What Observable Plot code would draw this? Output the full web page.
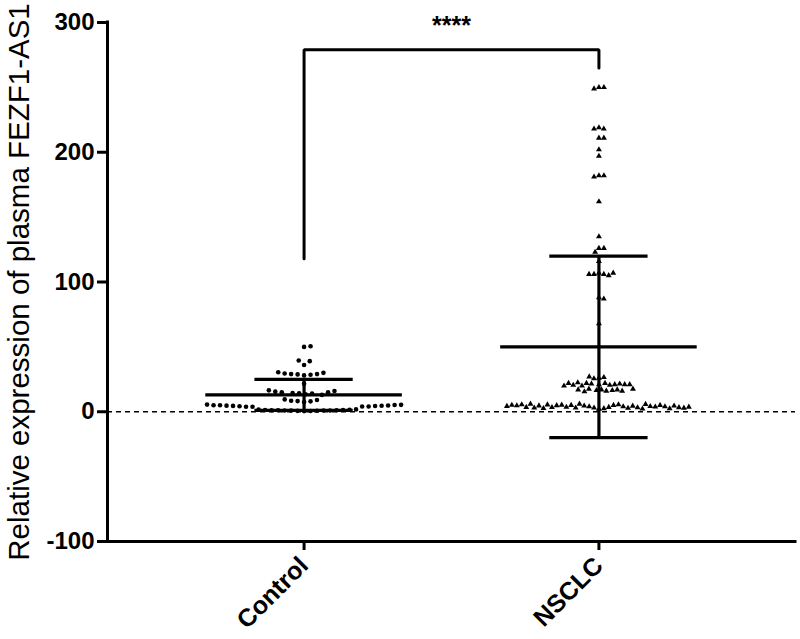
<!DOCTYPE html>
<html><head><meta charset="utf-8">
<script src="https://cdn.jsdelivr.net/npm/d3@7"></script>
<script src="https://cdn.jsdelivr.net/npm/@observablehq/plot@0.6"></script>
<style>
body{margin:0;background:#fff;font-family:"Liberation Sans",Arial,sans-serif}
#chart svg{display:block}
</style>
</head><body><div id="chart"></div>
<script>
// ---------- data ----------
const groups = ["Control", "NSCLC"];
const controlValues = [
  0.5, 1, 1.5, 0.8, 1.2, 1, 0.6, 1.4, 1, 1.8, 0.9, 1.3, 1.1, 0.7, 1.6, 1.2,
  3.8, 4.5, 5, 4.2, 5.5, 4.8, 4, 5.2, 4.6, 3.9, 5, 4.4, 5.3, 4.7, 4.1,
  7.5, 8, 8.5, 9, 8.2, 9.5,
  13, 14, 15, 14.5, 16, 13.5, 15.5, 14.2, 16.5, 15,
  21.5,
  28, 29, 30, 28.5, 29.5, 29, 30.5, 28.8,
  36, 39, 39.5, 50, 50.5
];
const nsclcValues = [
  2, 2.5, 3, 3.5, 4, 4.5, 5, 5.5, 6, 3, 4, 5, 2.8, 3.6, 4.4, 5.2, 3.2, 4.8, 2.2, 5.8,
  3.4, 4.2, 5.4, 2.6, 3.8, 4.6, 5, 3, 4, 6, 2.4, 3.5, 4.5, 5.5, 3.3, 4.7, 2.9, 5.1, 3.7, 4.3,
  26, 26.5, 25.5, 27,
  21, 22, 21.5, 20.5, 22, 21, 20, 21.5, 22.5, 21, 20.5, 22, 21, 20,
  17, 16.5, 17.5, 16, 17, 16.5, 15.5, 17, 16, 17.5,
  250, 250, 249, 219, 218, 218, 211, 211, 202, 197, 182, 182, 181, 162, 135,
  126, 126, 123, 116, 107, 106, 106, 105, 106, 107, 88, 87, 68
];
const groupMeans = [13, 50];
const groupSDs = [12, 70];
const yTicks = [-100, 0, 100, 200, 300];
const yDomain = [-100, 300];
const yTitle = "Relative expression of plasma FEZF1-AS1";
const sigLabel = "****";
const bracketY = [118, 279, 265];   // left foot, top, right foot
const sigY = 297;

// ---------- layout ----------
const W = 800, H = 639, mL = 107, mR = 5, mT = 22, mB = 98;
const xDomain = [-2/3, 5/3];
const yPx = d3.scaleLinear(yDomain, [H - mB, mT]);
const pxPerX = (W - mL - mR) / (xDomain[1] - xDomain[0]);

// beeswarm (dodge) layout computed in pixels, returned in data units
function swarm(values, gi, sx, sy, sorted) {
  let pts = values.map(v => ({v, py: yPx(v)}));
  if (sorted) pts = pts.sort((a, b) => a.v - b.v);
  const placed = [];
  const hit = (q, px, py) => ((q.px - px) / sx) ** 2 + ((q.py - py) / sy) ** 2 < 1 - 1e-6;
  for (const p of pts) {
    const cands = [0];
    for (const q of placed) {
      const dy = Math.abs(q.py - p.py);
      if (dy < sy) {
        const dx = sx * Math.sqrt(1 - (dy / sy) ** 2);
        cands.push(q.px + dx, q.px - dx);
      }
    }
    cands.sort((a, b) => Math.abs(a) - Math.abs(b));
    for (const c of cands) {
      if (!placed.some(q => hit(q, c, p.py))) { p.px = c; break; }
    }
    placed.push(p);
  }
  return placed.map(p => ({group: groups[gi], x: gi + p.px / pxPerX, y: p.v}));
}
const controlPts = swarm(controlValues, 0, 6.5, 8, true);
const nsclcPts = swarm(nsclcValues, 1, 5, 6, false);
const summary = groups.map((g, i) => ({i, mean: groupMeans[i], sd: groupSDs[i]}));
const bracket = [
  {x: 0, y: bracketY[0]}, {x: 0, y: bracketY[1]},
  {x: 1, y: bracketY[1]}, {x: 1, y: bracketY[2]}
];

const sw = 3.2;
const plot = Plot.plot({
  width: W, height: H,
  marginLeft: mL, marginRight: mR, marginTop: mT, marginBottom: mB,
  style: {fontFamily: "'Liberation Sans', Arial, sans-serif", color: "black", background: "white", overflow: "visible"},
  x: {domain: xDomain},
  y: {domain: yDomain},
  marks: [
    Plot.ruleY([0], {strokeDasharray: "5,4", strokeWidth: 1.3, stroke: "black"}),
    Plot.dot(controlPts, {x: "x", y: "y", r: 2.3, fill: "black", stroke: null}),
    Plot.dot(nsclcPts, {x: "x", y: "y", symbol: "triangle", r: 2.2, fill: "black", stroke: null}),
    Plot.ruleY(summary, {y: "mean", x1: d => d.i - 1/3, x2: d => d.i + 1/3, strokeWidth: sw, stroke: "black"}),
    Plot.ruleY(summary, {y: d => d.mean + d.sd, x1: d => d.i - 1/6, x2: d => d.i + 1/6, strokeWidth: sw, stroke: "black"}),
    Plot.ruleY(summary, {y: d => d.mean - d.sd, x1: d => d.i - 1/6, x2: d => d.i + 1/6, strokeWidth: sw, stroke: "black"}),
    Plot.ruleX(summary, {x: "i", y1: d => d.mean - d.sd, y2: d => d.mean + d.sd, strokeWidth: sw, stroke: "black"}),
    Plot.line(bracket, {x: "x", y: "y", strokeWidth: 3, stroke: "black", strokeLinejoin: "miter"}),
    Plot.text([sigLabel], {x: 0.5, y: sigY, text: d => d, fontSize: 25, fontWeight: "bold", fill: "black"}),
    Plot.ruleX([xDomain[0]], {y1: yDomain[0], y2: yDomain[1], strokeWidth: 3, stroke: "black", strokeLinecap: "square"}),
    Plot.ruleY([yDomain[0]], {strokeWidth: 3, stroke: "black", strokeLinecap: "square"}),
    Plot.axisY({ticks: yTicks, tickFormat: d => String(d), tickSize: 10, tickPadding: 3, fontSize: 24, fontWeight: "bold", strokeWidth: 3, label: null}),
    Plot.axisX({ticks: [0, 1], tickFormat: i => groups[i], tickRotate: -45, tickSize: 9, tickPadding: 11,
                fontSize: 25, fontWeight: "bold", strokeWidth: 3, label: null}),
    Plot.text([yTitle], {frameAnchor: "left", text: d => d, rotate: -90, dx: -88, dy: 0, fontSize: 29.5,
                textAnchor: "middle", lineAnchor: "middle", fill: "black"})
  ]
});
document.getElementById("chart").append(plot);
</script>
</body></html>
